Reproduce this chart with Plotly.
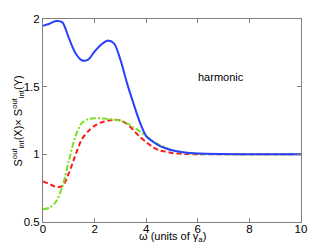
import plotly.graph_objects as go

x = [0, 0.25, 0.5, 0.75, 1.0, 1.25, 1.5, 1.75, 2.0, 2.25, 2.5, 2.75, 3.0, 3.25, 3.5, 3.75,
     4.0, 4.25, 4.5, 4.75, 5.0, 5.5, 6.0, 7.0, 8.0, 9.0, 10.0]
blue = [1.95, 1.965, 1.985, 1.975, 1.86, 1.75, 1.695, 1.70, 1.76, 1.81, 1.84, 1.82, 1.70, 1.53,
        1.38, 1.24, 1.135, 1.095, 1.065, 1.045, 1.03, 1.013, 1.006, 1.002, 1.0, 1.0, 1.0]
green = [0.595, 0.605, 0.65, 0.76, 0.95, 1.13, 1.23, 1.26, 1.267, 1.266, 1.262, 1.257, 1.248, 1.23,
         1.20, 1.17, 1.135, 1.10, 1.07, 1.05, 1.03, 1.012, 1.005, 1.001, 1.0, 1.0, 1.0]
red = [0.80, 0.78, 0.76, 0.765, 0.86, 0.99, 1.11, 1.17, 1.21, 1.235, 1.248, 1.255, 1.25, 1.225,
       1.18, 1.13, 1.09, 1.055, 1.03, 1.02, 1.01, 1.003, 1.0, 1.0, 1.0, 1.0, 1.0]

xticks = [0, 2, 4, 6, 8, 10]
yticks = [0.5, 1, 1.5, 2]

font = "Liberation Sans, Arial, sans-serif"

fig = go.Figure()
fig.add_trace(go.Scatter(x=x, y=red, mode="lines", line=dict(color="#ff1a1a", width=2, dash="5px,3px", shape="spline", smoothing=0.8)))
fig.add_trace(go.Scatter(x=x, y=green, mode="lines", line=dict(color="#77e022", width=2, dash="6px,2px,2px,2px", shape="spline", smoothing=0.8)))
fig.add_trace(go.Scatter(x=x, y=blue, mode="lines", line=dict(color="#2a3fff", width=2, shape="spline", smoothing=0.8)))

axis_common = dict(showgrid=False, zeroline=False, showline=True, linecolor="#7f7f7f", linewidth=1,
                   mirror="ticks", ticks="inside", ticklen=4, tickcolor="#7f7f7f", automargin=False,
                   tickfont=dict(family=font, size=11.5, color="black"))
fig.update_xaxes(range=[0, 10], tickvals=xticks, ticktext=[str(v) for v in xticks],
                 ticklabelstandoff=-4, **axis_common)
fig.update_yaxes(range=[0.5, 2], tickvals=yticks, ticktext=["0.5", "1", "1.5", "2"], **axis_common)

# page body has an 8px default margin, so the figure is shrunk to compensate
fig.update_layout(
    width=324, height=242, showlegend=False,
    margin=dict(l=35, r=31, t=11, b=28),
    paper_bgcolor="white", plot_bgcolor="white",
    font=dict(family=font, size=11, color="black"),
    annotations=[
        dict(x=5.92, y=1.574, xref="x", yref="y", text="harmonic", showarrow=False,
             xanchor="left", yanchor="middle", font=dict(family=font, size=11, color="black")),
        dict(x=0.5, y=-0.074, xref="paper", yref="paper", text="ω (units of γ<sub>a</sub>)",
             showarrow=False, xanchor="center", yanchor="middle",
             font=dict(family=font, size=11, color="black")),
        dict(x=-0.097, y=0.5, xref="paper", yref="paper", textangle=-90,
             text="S<sup>out</sup><sub>int</sub>(X)× S<sup>out</sup><sub>int</sub>(Y)",
             showarrow=False, xanchor="center", yanchor="middle",
             font=dict(family=font, size=11, color="black")),
    ],
)

fig.write_html("out.html")
